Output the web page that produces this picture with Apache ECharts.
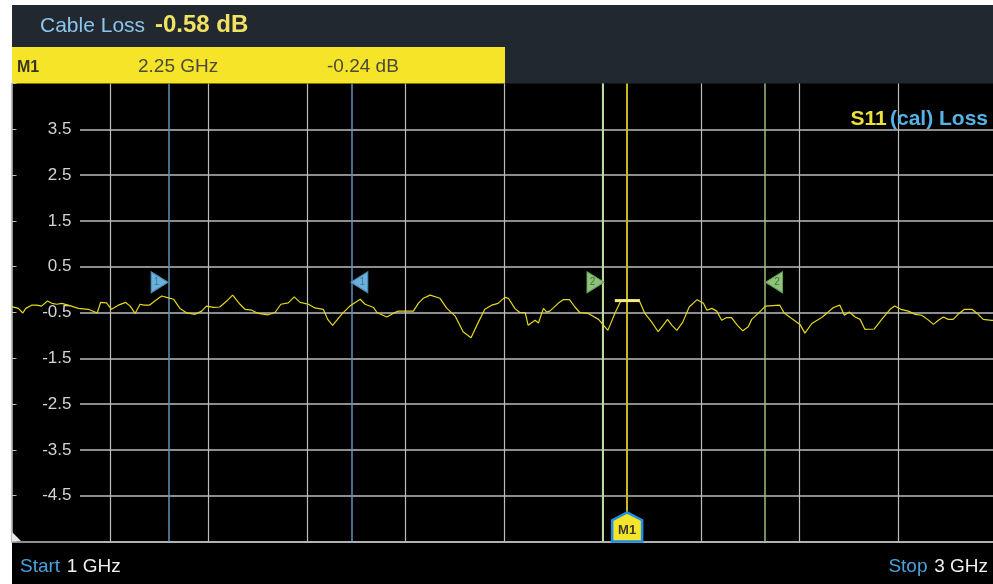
<!DOCTYPE html>
<html><head><meta charset="utf-8">
<script src="https://cdn.jsdelivr.net/npm/echarts@6/dist/echarts.min.js"></script>
<style>html,body{margin:0;padding:0;background:#fff;}#c{width:993px;height:584px;}</style>
</head><body><div id="c"></div>
<script>
// ---- data ----
const freqGHz = [
  1.000,1.004,1.014,1.023,1.029,1.041,1.051,1.061,1.073,1.082,
  1.092,1.102,1.115,1.136,1.156,1.174,1.181,1.193,1.203,1.217,
  1.232,1.241,1.251,1.261,1.269,1.280,1.291,1.305,1.315,1.329,
  1.342,1.356,1.373,1.386,1.396,1.410,1.423,1.437,1.449,1.464,
  1.474,1.488,1.501,1.521,1.535,1.547,1.562,1.574,1.586,1.603,
  1.616,1.633,1.642,1.652,1.672,1.687,1.708,1.718,1.735,1.742,
  1.762,1.775,1.785,1.816,1.826,1.836,1.850,1.870,1.884,1.901,
  1.917,1.933,1.948,1.961,1.975,1.988,1.995,2.002,2.009,2.022,
  2.032,2.043,2.049,2.063,2.070,2.080,2.087,2.093,2.110,2.120,
  2.133,2.144,2.154,2.171,2.192,2.211,2.225,2.236,2.246,2.263,
  2.275,2.286,2.300,2.313,2.323,2.332,2.341,2.351,2.363,2.376,
  2.392,2.405,2.412,2.422,2.432,2.442,2.452,2.462,2.474,2.485,
  2.496,2.503,2.516,2.531,2.560,2.569,2.584,2.601,2.611,2.625,
  2.645,2.655,2.669,2.682,2.691,2.701,2.713,2.723,2.733,2.752,
  2.767,2.784,2.793,2.806,2.821,2.835,2.848,2.860,2.872,2.882,
  2.892,2.902,2.912,2.922,2.935,2.950,2.963,2.973,2.990,3.000
];
const lossDb = [
  -0.37,-0.36,-0.41,-0.51,-0.41,-0.34,-0.34,-0.36,-0.25,-0.30,
  -0.32,-0.30,-0.34,-0.41,-0.43,-0.51,-0.28,-0.29,-0.43,-0.34,
  -0.28,-0.36,-0.52,-0.32,-0.34,-0.34,-0.25,-0.14,-0.17,-0.21,
  -0.41,-0.51,-0.54,-0.47,-0.36,-0.39,-0.38,-0.25,-0.12,-0.32,
  -0.43,-0.45,-0.52,-0.55,-0.50,-0.32,-0.29,-0.16,-0.28,-0.32,
  -0.40,-0.43,-0.65,-0.78,-0.52,-0.36,-0.21,-0.32,-0.39,-0.50,
  -0.60,-0.52,-0.47,-0.47,-0.30,-0.19,-0.12,-0.19,-0.41,-0.58,
  -0.92,-1.05,-0.71,-0.43,-0.34,-0.30,-0.23,-0.17,-0.19,-0.41,
  -0.50,-0.50,-0.78,-0.67,-0.73,-0.41,-0.49,-0.47,-0.30,-0.22,
  -0.22,-0.38,-0.50,-0.52,-0.65,-0.89,-0.52,-0.27,-0.23,-0.23,
  -0.25,-0.52,-0.71,-0.92,-0.78,-0.65,-0.78,-0.89,-0.71,-0.38,
  -0.22,-0.30,-0.45,-0.41,-0.47,-0.67,-0.61,-0.61,-0.78,-0.90,
  -0.81,-0.65,-0.52,-0.36,-0.34,-0.51,-0.63,-0.76,-0.95,-0.74,
  -0.61,-0.52,-0.39,-0.34,-0.56,-0.49,-0.60,-0.65,-0.87,-0.86,
  -0.65,-0.43,-0.36,-0.43,-0.47,-0.54,-0.56,-0.65,-0.76,-0.67,
  -0.60,-0.65,-0.65,-0.54,-0.43,-0.43,-0.54,-0.65,-0.67,-0.68
];
const startGHz = 1, stopGHz = 3, freqStep = 0.2;
const yMin = -5.5, yMax = 4.5, yStep = 1;
const cableLossDb = -0.58;
const markerName = 'M1', markerGHz = 2.25, markerDb = -0.24;
const markerBarGHz = [2.225, 2.276];
const lines1GHz = [1.318, 1.689];   // blue pair "1"
const lines2GHz = [2.203, 2.531];   // green pair "2"
const flagLevelDb = 0.16;

// ---- styling ----
const NF = "'Liberation Sans',Arial,sans-serif";
const chart = echarts.init(document.getElementById('c'), null, {renderer:'canvas'});
const grey = '#bdbdbd';
const gridPos = {left: 11.5, width: 985, top: 83.5, height: 458, outerBoundsMode: 'none', containLabel: false};

function flag(f, dir, fill, stroke, txt, txtColor){
  return {
    coord:[f, flagLevelDb],
    symbol: dir === 'r' ? 'path://M0,0 L17,10.5 L0,21 Z' : 'path://M17,0 L0,10.5 L17,21 Z',
    symbolSize:[17,21],
    symbolOffset:[dir === 'r' ? -8.5 : 8.5, 0],
    itemStyle:{color: fill, borderColor: stroke, borderWidth: 1},
    label:{show:true, formatter: txt, color: txtColor, fontSize: 10, fontFamily: NF,
           offset:[dir === 'r' ? -3 : 3, 0]}
  };
}

const option = {
  backgroundColor: '#ffffff',
  animation: false,
  grid: [
    Object.assign({show:true, backgroundColor:'#000', borderWidth:0}, gridPos),
    Object.assign({show:false}, gridPos, {left: 80, width: 916.5})
  ],
  xAxis: [
    {type:'value', gridIndex:0, min:startGHz, max:stopGHz, interval:freqStep,
     axisLine:{show:true, onZero:false, lineStyle:{color:grey, width:1.5}}, axisTick:{show:false}, axisLabel:{show:false},
     splitLine:{show:true, lineStyle:{color:grey, width:1.2}}},
    {type:'value', gridIndex:1, min:startGHz, max:stopGHz, show:false}
  ],
  yAxis: [
    {type:'value', gridIndex:0, min:yMin, max:yMax, interval:yStep,
     axisLine:{show:true, onZero:false, lineStyle:{color:grey, width:1.5}},
     axisTick:{show:true, inside:true, length:5, lineStyle:{color:grey}},
     axisLabel:{show:true, inside:true, margin:60, align:'right', color:'#d4d4d4',
       fontSize:17, fontFamily:NF,
       formatter: v => (Math.abs(v - yMin) < 1e-6 || Math.abs(v - yMax) < 1e-6) ? '' : v.toFixed(1)},
     splitLine:{show:false}},
    {type:'value', gridIndex:1, min:yMin, max:yMax, interval:yStep,
     axisLine:{show:false}, axisTick:{show:false}, axisLabel:{show:false},
     splitLine:{show:true, showMaxLine:false, lineStyle:{color:grey, width:1.5}}}
  ],
  series: [
    {
      name:'markers', type:'line', xAxisIndex:0, yAxisIndex:0, data:[], z:3,
      markLine:{
        silent:true, symbol:'none', label:{show:false}, animation:false,
        data:[
          {xAxis:lines1GHz[0], lineStyle:{color:'#5b93ba', width:1.5, type:'solid'}},
          {xAxis:lines1GHz[1], lineStyle:{color:'#5b93ba', width:1.5, type:'solid'}},
          {xAxis:lines2GHz[0], lineStyle:{color:'#b9dba2', width:2, type:'solid'}},
          {xAxis:lines2GHz[1], lineStyle:{color:'#9cbc7c', width:1.5, type:'solid'}},
          {xAxis:markerGHz, lineStyle:{color:'#c9b81f', width:2, type:'solid'}}
        ]
      }
    },
    {
      name:'S11 (cal) Loss', type:'line', xAxisIndex:0, yAxisIndex:0,
      data: freqGHz.map((f,i)=>[f, lossDb[i]]),
      showSymbol:false, symbol:'none', lineStyle:{color:'#e3d81c', width:1.2}, z:5
    },
    {
      name:'M1 level', type:'line', xAxisIndex:0, yAxisIndex:0,
      data: markerBarGHz.map(f=>[f, markerDb]),
      showSymbol:false, symbol:'none', lineStyle:{color:'#f3e885', width:3}, z:6,
      markPoint:{
        silent:true, animation:false,
        data:[
          flag(lines1GHz[0], 'r', '#6cb0da', '#4a8cb8', '1', '#3a78a4'),
          flag(lines1GHz[1], 'l', '#6cb0da', '#4a8cb8', '1', '#3a78a4'),
          flag(lines2GHz[0], 'r', '#8cc47a', '#6aa45a', '2', '#4a6a3a'),
          flag(lines2GHz[1], 'l', '#8cc47a', '#6aa45a', '2', '#4a6a3a'),
          {coord:[markerGHz, yMin], symbol:'path://M0,8 L15.5,0 L31,8 L31,30 L0,30 Z',
           symbolSize:[30,29], symbolOffset:[0,-14.5],
           itemStyle:{color:'#f4e42a', borderColor:'#1e8fe6', borderWidth:2.5},
           label:{show:true, formatter:markerName, color:'#3a3a2a', fontWeight:'bold', fontSize:13,
                  fontFamily:NF, offset:[0,3]}}
        ]
      }
    }
  ],
  graphic: [
    {type:'rect', shape:{x:12, y:5, width:981, height:79}, style:{fill:'#222830'}, z:-10},
    {type:'rect', shape:{x:12, y:47, width:493, height:37}, style:{fill:'#f6e428'}, z:-9},
    {type:'rect', shape:{x:12, y:541, width:981, height:43}, style:{fill:'#000'}, z:-10},
    {type:'polygon', shape:{points:[[12,532],[21,541],[12,541]]}, style:{fill:'#e8e8e8'}, z:10},
    {type:'text', x:40, y:26, style:{text:'Cable Loss', fill:'#8cc6ec', font:'21px ' + NF, verticalAlign:'middle'}},
    {type:'text', x:155, y:25, style:{text:cableLossDb.toFixed(2) + ' dB', fill:'#f2e262', font:'bold 24px ' + NF, verticalAlign:'middle'}},
    {type:'text', x:17, y:68, style:{text:markerName, fill:'#353520', font:'bold 16px ' + NF, verticalAlign:'middle'}},
    {type:'text', x:138, y:67, style:{text:markerGHz.toFixed(2) + ' GHz', fill:'#4a4a38', font:'19px ' + NF, verticalAlign:'middle'}},
    {type:'text', x:327, y:67, style:{text:markerDb.toFixed(2) + ' dB', fill:'#4a4a38', font:'19px ' + NF, verticalAlign:'middle'}},
    {type:'text', x:988, y:119, style:{
      text:'{a|S11} {b|(cal) Loss}', align:'right', verticalAlign:'middle',
      rich:{a:{fill:'#f0e03c', font:'bold 21px ' + NF}, b:{fill:'#55b2e6', font:'bold 21px ' + NF}}}, z:10},
    {type:'text', x:20, y:567, style:{
      text:'{a|Start}  {b|' + startGHz + ' GHz}', verticalAlign:'middle',
      rich:{a:{fill:'#4aa2dc', font:'19px ' + NF}, b:{fill:'#f0f0f0', font:'19px ' + NF}}}},
    {type:'text', x:988, y:567, style:{
      text:'{a|Stop}  {b|' + stopGHz + ' GHz}', align:'right', verticalAlign:'middle',
      rich:{a:{fill:'#4aa2dc', font:'19px ' + NF}, b:{fill:'#f0f0f0', font:'19px ' + NF}}}}
  ]
};
chart.setOption(option);
</script>
</body></html>
